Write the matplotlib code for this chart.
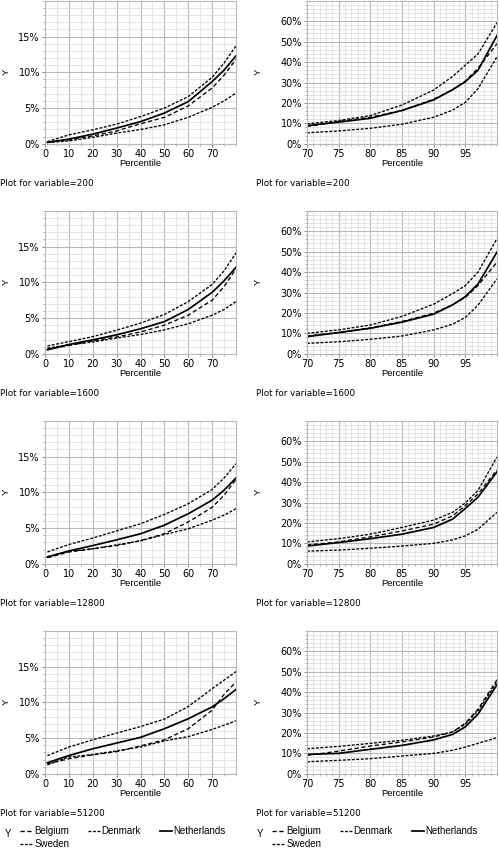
import numpy as np
import matplotlib
matplotlib.use("Agg")
import matplotlib.pyplot as plt
from matplotlib.ticker import MultipleLocator, FuncFormatter
from matplotlib.lines import Line2D

# data (Y in percent)
variables = [200, 1600, 12800, 51200]
countries = ["Belgium", "Denmark", "Netherlands", "Sweden"]

x_low = [1, 10, 20, 30, 40, 50, 60, 70, 75, 80]
x_high = [70, 75, 80, 85, 90, 93, 95, 97, 100]

low_belgium = [
    [0.2, 0.55, 1.1, 1.8, 2.8, 3.7, 5.3, 7.8, 9.6, 11.8],
    [0.65, 1.15, 1.8, 2.35, 3.05, 4.0, 5.4, 7.5, 9.4, 11.9],
    [0.85, 1.65, 2.1, 2.55, 3.25, 4.2, 5.85, 7.9, 9.6, 11.8],
    [1.4, 2.1, 2.65, 3.1, 3.9, 4.75, 6.3, 8.9, 11.1, 12.85],
]
low_denmark = [
    [0.3, 1.25, 1.95, 2.75, 3.8, 5.0, 6.6, 9.3, 11.3, 13.7],
    [1.1, 1.7, 2.4, 3.3, 4.3, 5.5, 7.3, 9.7, 11.6, 14.1],
    [1.65, 2.7, 3.6, 4.6, 5.6, 6.9, 8.4, 10.4, 12.0, 14.0],
    [2.55, 3.75, 4.75, 5.7, 6.6, 7.65, 9.4, 11.9, 13.1, 14.3],
]
low_netherlands = [
    [0.2, 0.65, 1.35, 2.2, 3.1, 4.3, 5.9, 8.7, 10.3, 12.3],
    [0.55, 1.3, 1.95, 2.65, 3.5, 4.5, 6.2, 8.6, 10.2, 12.1],
    [0.95, 1.8, 2.55, 3.35, 4.2, 5.4, 7.0, 8.9, 10.3, 12.0],
    [1.55, 2.55, 3.5, 4.3, 5.1, 6.3, 7.7, 9.35, 10.5, 11.8],
]
low_sweden = [
    [0.2, 0.4, 0.9, 1.5, 2.0, 2.65, 3.7, 5.1, 6.0, 7.1],
    [0.8, 1.25, 1.65, 2.2, 2.7, 3.35, 4.2, 5.4, 6.2, 7.3],
    [1.0, 1.75, 2.1, 2.65, 3.2, 4.1, 4.9, 6.1, 6.8, 7.7],
    [1.25, 2.35, 2.7, 3.2, 3.75, 4.6, 5.2, 6.2, 6.8, 7.4],
]

high_belgium = [
    [8.5, 10.9, 13.0, 16.3, 21.8, 26.5, 30.7, 37.0, 49.0],
    [8.7, 10.4, 12.7, 15.8, 19.9, 24.0, 27.6, 33.4, 44.9],
    [9.2, 10.7, 13.2, 16.1, 19.4, 23.5, 28.5, 34.2, 46.0],
    [9.0, 11.1, 13.6, 15.6, 18.0, 20.5, 24.8, 31.6, 46.0],
]
high_denmark = [
    [9.8, 11.4, 13.8, 19.0, 26.3, 33.0, 38.5, 44.0, 59.3],
    [10.0, 11.7, 14.1, 18.3, 24.3, 29.5, 33.4, 40.0, 56.4],
    [10.7, 12.3, 14.5, 17.8, 21.4, 25.2, 29.8, 35.9, 52.3],
    [12.3, 13.4, 14.9, 16.4, 18.5, 20.5, 24.3, 30.8, 45.0],
]
high_netherlands = [
    [8.9, 10.6, 12.5, 16.3, 21.5, 26.5, 30.4, 36.0, 53.0],
    [8.4, 10.4, 12.5, 15.5, 19.4, 24.0, 28.0, 34.2, 49.8],
    [8.7, 10.4, 12.3, 14.5, 17.8, 21.9, 27.1, 32.6, 45.0],
    [9.5, 10.0, 12.0, 13.9, 16.6, 19.3, 23.0, 29.2, 43.6],
]
high_sweden = [
    [5.4, 6.3, 7.6, 9.6, 13.0, 16.5, 20.3, 27.0, 42.6],
    [5.1, 5.9, 7.1, 8.7, 11.7, 14.5, 17.8, 23.8, 36.7],
    [6.2, 6.7, 7.6, 8.7, 10.0, 11.7, 13.7, 16.9, 25.2],
    [5.9, 6.6, 7.4, 8.7, 10.0, 11.5, 13.1, 14.9, 17.7],
]

styles = {
    "Belgium": dict(color="black", lw=0.95, dashes=(3.2, 2.0)),
    "Denmark": dict(color="black", lw=0.95, dashes=(2.2, 1.2)),
    "Netherlands": dict(color="black", lw=1.25, linestyle="-"),
    "Sweden": dict(color="black", lw=0.95, dashes=(2.2, 1.2)),
}

W, H = 499, 851
fig = plt.figure(figsize=(W / 100, H / 100), dpi=100)

labfont = dict(family="Liberation Sans", size=6.8)


def px_axes(x0, top, w, h):
    return fig.add_axes([x0 / W, 1 - (top + h) / H, w / W, h / H])


pct = FuncFormatter(lambda v, p: "%d%%" % round(v))

for i, var in enumerate(variables):
    top = 0.8 + 210 * i
    h = 143
    for side in ("low", "high"):
        if side == "low":
            ax = px_axes(45, top, 191, h)
            xs = x_low
            series = [low_belgium[i], low_denmark[i], low_netherlands[i], low_sweden[i]]
            ax.set_xlim(0, 80)
            ax.set_ylim(0, 20)
            ax.set_xticks(range(0, 80, 10))
            ax.set_yticks(range(0, 20, 5))
            ax.xaxis.set_minor_locator(MultipleLocator(5))
            ax.yaxis.set_minor_locator(MultipleLocator(1))
            w, capx = 191, 0
        else:
            ax = px_axes(307, top, 190, h)
            xs = x_high
            series = [high_belgium[i], high_denmark[i], high_netherlands[i], high_sweden[i]]
            ax.set_xlim(70, 100)
            ax.set_ylim(0, 70)
            ax.set_xticks(range(70, 100, 5))
            ax.set_yticks(range(0, 70, 10))
            ax.xaxis.set_minor_locator(MultipleLocator(1))
            ax.yaxis.set_minor_locator(MultipleLocator(2))
            w, capx = 190, 256

        ax.yaxis.set_major_formatter(pct)
        ax.grid(which="major", color="#b8b8b8", lw=0.8)
        ax.grid(which="minor", color="#e0e0e0", lw=0.6)
        ax.set_axisbelow(True)
        for s in ax.spines.values():
            s.set_color("#b8b8b8")
            s.set_linewidth(0.8)
        ax.tick_params(which="major", length=2.5, width=0.6, color="#707070",
                       pad=1.2, labelsize=7)
        ax.tick_params(which="minor", length=1.5, width=0.5, color="#909090")
        for lab in ax.get_xticklabels() + ax.get_yticklabels():
            lab.set_family("DejaVu Sans")

        for name, ys in zip(countries, series):
            ax.plot(xs, ys, **styles[name])

        ax.set_xlabel("Percentile", **labfont)
        ax.xaxis.set_label_coords(0.5, -15 / h)
        ax.set_ylabel("Y", **labfont)
        if side == "low":
            ax.yaxis.set_label_coords(-34 / w, 0.5)
        else:
            ax.yaxis.set_label_coords(-44 / w, 0.5)

        fig.text(capx / W, 1 - (top + h + 40) / H, "Plot for variable=%d" % var,
                 family="DejaVu Sans", size=6.3, va="center", ha="left")

# legends under each column
for lx in (5, 257):
    fig.text(lx / W, 1 - 834 / H, "Y", family="Liberation Sans", size=7,
             va="center", ha="left")
    handles = [Line2D([], [], **styles[n]) for n in countries]
    order = [0, 3, 1, 2]
    fig.legend([handles[k] for k in order], [countries[k] for k in order],
               loc="upper left", bbox_to_anchor=((lx + 15) / W, 1 - 826 / H),
               ncol=3, frameon=False, handlelength=1.3, handletextpad=0.15,
               columnspacing=1.9, labelspacing=0.35, borderpad=0, borderaxespad=0,
               prop=dict(family="Liberation Sans", size=7))

fig.savefig("out.png", dpi=100, facecolor="white")
